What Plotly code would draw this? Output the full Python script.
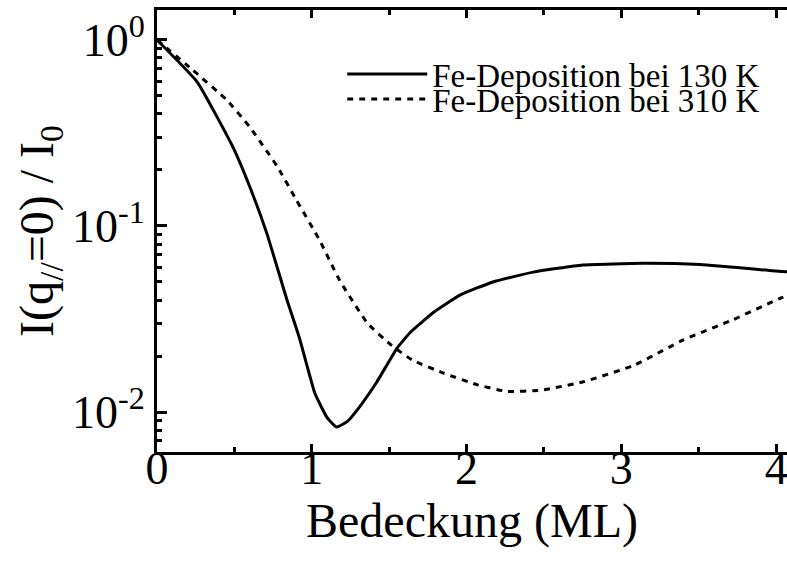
import plotly.graph_objects as go

# Fe-Deposition bei 130 K
x_130 = [0.0, 0.26, 0.49, 0.60, 0.71, 0.84, 0.92, 1.02, 1.10, 1.16, 1.23, 1.31, 1.42, 1.55, 1.64,
         1.79, 1.96, 2.17, 2.43, 2.75, 3.14, 3.51, 4.03, 4.1]
y_130 = [1.0, 0.594, 0.266, 0.162, 0.091, 0.040, 0.025, 0.0126, 0.0093, 0.0083, 0.0089, 0.0107,
         0.0145, 0.022, 0.027, 0.0345, 0.0426, 0.050, 0.0565, 0.0617, 0.063, 0.062, 0.057, 0.0565]

# Fe-Deposition bei 310 K
x_310 = [0.0, 0.23, 0.45, 0.60, 0.78, 0.90, 1.05, 1.18, 1.36, 1.51, 1.65, 1.85, 2.07, 2.26, 2.48,
         2.75, 3.08, 3.40, 3.72, 4.03, 4.1]
y_310 = [1.0, 0.69, 0.476, 0.34, 0.207, 0.138, 0.084, 0.051, 0.030, 0.023, 0.019, 0.0162, 0.014,
         0.0129, 0.0131, 0.0145, 0.0178, 0.0244, 0.0313, 0.041, 0.043]

names = ["Fe-Deposition bei 130 K", "Fe-Deposition bei 310 K"]
x_ticks = [0, 1, 2, 3, 4]
y_ticks = [1e-2, 1e-1, 1e0]
y_ticktext = ["10<sup>-2</sup>", "10<sup>-1</sup>", "10<sup>0</sup>"]
y_minor = [k * 10.0 ** e for e in (-3, -2, -1, 0) for k in range(2, 10)]

FONT = "Times New Roman, Liberation Serif, serif"

fig = go.Figure()
fig.add_trace(go.Scatter(x=x_130, y=y_130, mode="lines", name=names[0], showlegend=True,
                         line=dict(color="black", width=3, shape="spline", smoothing=0.4),
                         legend="legend"))
fig.add_trace(go.Scatter(x=x_310, y=y_310, mode="lines", name=names[1], showlegend=True,
                         line=dict(color="black", width=3, dash="6px,6px", shape="spline", smoothing=0.4),
                         legend="legend2"))

legend_common = dict(font=dict(family=FONT, size=33, color="black"), bgcolor="rgba(0,0,0,0)",
                     xanchor="left", yanchor="middle", itemwidth=80, borderwidth=0)
fig.update_layout(
    width=787, height=563,
    margin=dict(l=157, r=0, t=10, b=111),
    paper_bgcolor="white", plot_bgcolor="white",
    showlegend=True,
    font=dict(family=FONT, color="black"),
    legend=dict(x=0.294, y=(452 - 74) / 442, **legend_common),
    legend2=dict(x=0.294, y=(452 - 99) / 442, **legend_common),
    xaxis=dict(range=[0, 4.07], tickvals=x_ticks, ticks="inside", ticklen=8, tickwidth=3,
               showline=True, linewidth=3, linecolor="black", mirror="ticks", showgrid=False,
               zeroline=False, tickfont=dict(size=46, family=FONT), tickcolor="black",
               ticklabeloverflow="allow", ticklabelstandoff=-26,
               minor=dict(dtick=0.5, tick0=0, ticks="inside", ticklen=5, tickwidth=3, tickcolor="black",
                          showgrid=False),
               title=dict(text="Bedeckung (ML)", font=dict(size=48, family=FONT), standoff=2)),
    yaxis=dict(type="log", range=[-2.215, 0.161], tickvals=y_ticks, ticktext=y_ticktext,
               ticks="inside", ticklen=10, tickwidth=3, tickcolor="black",
               showline=True, linewidth=3, linecolor="black", showgrid=False, zeroline=False,
               tickfont=dict(size=46, family=FONT),
               minor=dict(tickvals=y_minor, ticks="inside", ticklen=5, tickwidth=3, tickcolor="black",
                          showgrid=False),
               title=dict(text="I(q<sub>//</sub>=0) / I<sub>0</sub>", font=dict(size=48, family=FONT),
                          standoff=4)),
)
fig.write_html("out.html")
